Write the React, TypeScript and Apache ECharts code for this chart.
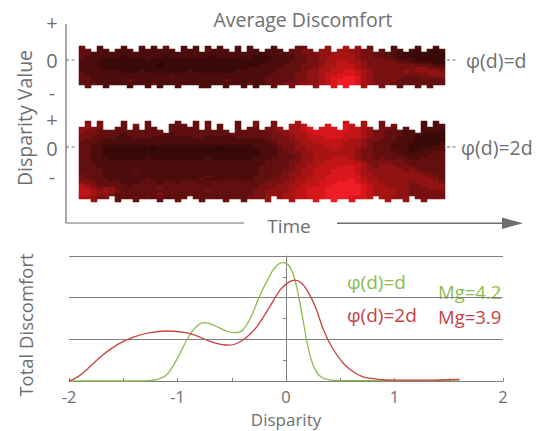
import React, { useEffect, useRef } from "react";
import * as echarts from "echarts";

const FONT = "'Open Sans', 'Noto Sans', sans-serif";
const GRAY = "#6d6e71";
const AXIS = "#7f7f7f";
const GREEN = "#8cbb4e";
const RED = "#c8423f";

// heat level palette 0..9 (dark maroon -> bright red)
const HEAT = ["#260505", "#3a0909", "#4d0c0c", "#620f0f", "#781111", "#901313", "#a81414", "#c01516", "#d8161b", "#ee1c24"];

// Heatmap 1 (phi(d)=d): 14 rows x 61 time columns, levels
const hm1Rows = [
  "3332|23222 22222 32222 22222 23222|322222|3334|4455665|5433|32222|221122",
  "3332|22222 32222 22222 22322 22222|222223|3344|4556665|5443|32222|211112",
  "3322|22222 22222 22222 22222 22222|212222|3344|4556666|5443|32211|111111",
  "3222|22212 22222 12222 22212 22222|111222|2334|4556666|5443|33221|111111",
  "3222|11111 11211 11111 11111 11112|111222|2334|4566666|5444|43322|211111",
  "2221|11111 11111 11111 11111 11111|112222|3334|4566776|6544|44433|222211",
  "2221|11111 11110 11111 11111 11111|122223|3344|4566777|6544|44444|433322",
  "2222|11111 11111 11111 11111 11112|222233|3344|5667777|6554|44444|455443",
  "2222|22211 12111 11112 11111 11222|222233|3345|5667788|7654|44445|455554",
  "3222|22222 22222 22222 22222 22222|222333|3445|5677888|7654|44444|444555",
  "3322|22222 22222 23222 22222 22222|223333|3445|5678899|8654|44443|334444",
  "3322|22223 22222 22222 22222 32222|223333|3445|5678999|8654|44433|333333",
  "3332|22222 22232 22222 22222 22223|223334|4455|5678999|8654|44333|333333",
  "3332|22222 22232 22222 22222 22223|223334|4455|5678998|7654|44333|333333",
];
const hm1TopCut = "0120121012 0101012010 2010120201 2101210012 1021010102 1201210210 1";
const hm1BotCut = "1011011101 1010110111 0011011010 1101101110 1101011011 0110110101 1";

// Heatmap 2 (phi(d)=2d): 27 rows x 61 time columns
const hm2Rows = [
  "4444|33433 33333 43333 33333 34333|444455|6677|7888877|7655|44433|332222",
  "4544|33333 43333 33333 33433 33333|444455|6677|8888887|7655|44433|322222",
  "5544|33333 33333 33333 33333 33333|344455|6678|8888887|7654|44333|222222",
  "5443|33333 33333 33333 33333 33333|334455|6678|8888887|7654|43332|222221",
  "4443|33323 33333 32333 33333 33333|333445|5667|8888877|7654|43332|221111",
  "4433|33222 33322 22222 33222 22333|333444|5667|7788877|7654|43322|211111",
  "4333|22222 22222 22222 22222 22222|223344|5566|7777776|6544|33322|211111",
  "3332|22222 22222 22222 22222 22222|222344|4566|6777766|6543|33222|111112",
  "3322|11111 11111 11111 11111 11111|222234|4556|6677766|6543|33222|111122",
  "3322|11111 11101 11111 11110 11111|122234|4556|6667666|5443|33222|112222",
  "3322|11111 11111 11111 11111 11111|122233|4455|6666666|5443|33322|122233",
  "3322|11111 11111 11111 11111 11111|122233|3455|6666666|5443|33332|222333",
  "3322|21111 11211 11111 11211 11111|222333|3455|6667776|5443|43333|223333",
  "3322|22222 22222 22222 22222 22222|223333|4455|6677777|6544|44443|333333",
  "3332|22222 22222 22222 22222 22222|223333|4556|6777777|7654|55444|333333",
  "3332|22222 22222 22222 22222 22222|233333|4556|6777888|7654|55544|433333",
  "3333|22222 22222 22222 22222 22222|233334|4566|7778888|7655|55554|543333",
  "3333|22222 32222 22222 22222 22222|233334|5566|7778888|7665|55555|554433",
  "4333|22222 22222 22222 22322 22222|333344|5566|7788888|8665|55555|555443",
  "4433|32222 22322 22222 23222 22222|333444|5667|7788889|8766|55555|555543",
  "5443|33322 23332 33233 32333 33333|334445|5667|7888999|8766|55555|455554",
  "6543|33332 33333 33333 33333 33333|344455|6677|7889999|9876|65555|445555",
  "7654|55333 33334 33333 33333 33333|344555|6678|8899999|9876|66555|444555",
  "7765|65433 33333 33333 33433 33333|445555|6778|8899999|9876|66655|444444",
  "7765|54333 33334 33333 33333 33333|445556|6778|8899999|9876|66655|444444",
  "6654|44333 33333 33333 33333 33334|445556|6778|8899998|8876|66555|444444",
  "6654|44333 33333 33333 33333 33334|445556|6778|8899998|8876|66555|444444",
];
const hm2TopCut = "2020332031 3023410120 3031340320 3202310123 2123012023 0213234020 1";
const hm2BotCut = "1101120110 1110110121 0111011011 1021101110 1101101112 1011021011 1";

// Total discomfort curves
const greenX = [-2, -1.6, -1.3, -1.2, -1.1, -1.0, -0.9, -0.82, -0.75, -0.65, -0.55, -0.47, -0.4, -0.32, -0.25, -0.17, -0.1, -0.03, 0.03, 0.08, 0.12, 0.16, 0.2, 0.25, 0.3, 0.36, 0.45, 0.7, 1.2, 1.6];
const greenY = [0, 0, 0.005, 0.03, 0.15, 0.55, 1.05, 1.32, 1.4, 1.32, 1.2, 1.16, 1.22, 1.55, 2.0, 2.42, 2.73, 2.84, 2.76, 2.45, 1.98, 1.42, 0.85, 0.38, 0.15, 0.05, 0.015, 0.01, 0.01, 0.02];
const redX = [-2, -1.92, -1.85, -1.7, -1.55, -1.4, -1.25, -1.1, -0.92, -0.8, -0.7, -0.6, -0.52, -0.43, -0.35, -0.27, -0.15, -0.05, 0.03, 0.08, 0.14, 0.2, 0.27, 0.35, 0.43, 0.53, 0.62, 0.71, 0.85, 1.0, 1.3, 1.6];
const redY = [0, 0.1, 0.24, 0.6, 0.88, 1.06, 1.16, 1.2, 1.16, 1.06, 0.95, 0.88, 0.86, 0.93, 1.08, 1.3, 1.78, 2.2, 2.38, 2.42, 2.36, 2.15, 1.78, 1.2, 0.78, 0.42, 0.22, 0.1, 0.04, 0.02, 0.02, 0.04];

const xTicks = [-2, 2];

function buildHeat(rows: string[], topCut: string, botCut: string) {
  const g = rows.map((r) => r.replace(/[^0-9]/g, ""));
  const tc = topCut.replace(/\s/g, "");
  const bc = botCut.replace(/\s/g, "");
  const n = g.length;
  const data: number[][] = [];
  for (let r = 0; r < n; r++) {
    for (let c = 0; c < g[r].length; c++) {
      const t = Number(tc[c] ?? "1");
      const b = Number(bc[c] ?? "1");
      if (r < t || r >= n - b) continue;
      data.push([c, r, Number(g[r][c])]);
    }
  }
  return { data, cols: g[0].length, rows: n };
}

function txt(text: string, x: number, y: number, size: number, fill: string, extra: any = {}) {
  return {
    type: "text",
    x,
    y,
    ...extra,
    style: { text, fill, fontSize: size, fontFamily: FONT, align: extra.align ?? "left", verticalAlign: "middle" },
  };
}

function line(x1: number, y1: number, x2: number, y2: number, w = 1.2, dash?: number[]) {
  return {
    type: "line",
    shape: { x1, y1, x2, y2 },
    style: { stroke: GRAY, lineWidth: w, lineDash: dash },
  };
}

export default function App() {
  const ref = useRef<HTMLDivElement>(null);
  useEffect(() => {
    if (!ref.current) return;
    const chart = echarts.init(ref.current, null, { renderer: "svg" });
    const h1 = buildHeat(hm1Rows, hm1TopCut, hm1BotCut);
    const h2 = buildHeat(hm2Rows, hm2TopCut, hm2BotCut);
    const catCols = Array.from({ length: h1.cols }, (_, i) => String(i));
    const rows1 = Array.from({ length: h1.rows }, (_, i) => String(i));
    const rows2 = Array.from({ length: h2.rows }, (_, i) => String(i));

    const option: any = {
      animation: false,
      backgroundColor: "#ffffff",
      textStyle: { fontFamily: FONT },
      grid: [
        { left: 79, top: 46, width: 366, height: 42 },
        { left: 79, top: 121, width: 366, height: 81 },
        { left: 69, top: 256, width: 434, height: 125 },
      ],
      xAxis: [
        { type: "category", gridIndex: 0, data: catCols, show: false },
        { type: "category", gridIndex: 1, data: catCols, show: false },
        {
          type: "value",
          gridIndex: 2,
          min: xTicks[0],
          max: xTicks[1],
          interval: 1,
          axisLine: { show: true, lineStyle: { color: AXIS, width: 1 } },
          axisTick: { show: true, inside: true, length: 3, lineStyle: { color: AXIS } },
          minorTick: { show: true, splitNumber: 2, length: 3, lineStyle: { color: AXIS } },
          axisLabel: { fontSize: 16.5, color: GRAY, margin: 6.5, fontFamily: FONT },
          splitLine: { show: false },
          name: "Disparity",
          nameLocation: "middle",
          nameGap: 29.5,
          nameTextStyle: { fontSize: 17, color: GRAY, fontFamily: FONT },
        },
      ],
      yAxis: [
        { type: "category", gridIndex: 0, data: rows1, show: false, inverse: true },
        { type: "category", gridIndex: 1, data: rows2, show: false, inverse: true },
        {
          type: "value",
          gridIndex: 2,
          min: 0,
          max: 3,
          interval: 1,
          axisLine: { show: true, onZero: true, lineStyle: { color: AXIS, width: 1 } },
          axisTick: { show: true, length: 3, lineStyle: { color: AXIS } },
          minorTick: { show: true, splitNumber: 2, length: 3, lineStyle: { color: AXIS } },
          axisLabel: { show: false },
          splitLine: { show: true, lineStyle: { color: "#808080", width: 1 } },
        },
      ],
      visualMap: {
        type: "continuous",
        show: false,
        min: 0,
        max: 9,
        seriesIndex: [0, 1],
        dimension: 2,
        inRange: { color: HEAT },
      },
      series: [
        { type: "heatmap", xAxisIndex: 0, yAxisIndex: 0, data: h1.data, progressive: 0, emphasis: { disabled: true } },
        { type: "heatmap", xAxisIndex: 1, yAxisIndex: 1, data: h2.data, progressive: 0, emphasis: { disabled: true } },
        {
          type: "line",
          xAxisIndex: 2,
          yAxisIndex: 2,
          data: greenX.map((x, i) => [x, greenY[i]]),
          smooth: 0.35,
          showSymbol: false,
          lineStyle: { color: GREEN, width: 1.3 },
          itemStyle: { color: GREEN },
        },
        {
          type: "line",
          xAxisIndex: 2,
          yAxisIndex: 2,
          data: redX.map((x, i) => [x, redY[i]]),
          smooth: 0.35,
          showSymbol: false,
          lineStyle: { color: RED, width: 1.3 },
          itemStyle: { color: RED },
        },
      ],
      graphic: [
        txt("Average Discomfort", 303, 19, 19.5, GRAY, { align: "center" }),
        line(66, 24, 66, 223),
        line(66, 223, 244, 223),
        line(337, 223.3, 505, 223.3, 1.5),
        {
          type: "polygon",
          shape: { points: [[502, 217.5], [523, 223.3], [502, 229]] },
          style: { fill: GRAY },
        },
        txt("Time", 289, 226, 19, GRAY, { align: "center" }),
        txt("Disparity Value", 24, 118, 19.5, GRAY, { align: "center", rotation: Math.PI / 2 }),
        txt("+", 52, 22, 20, GRAY, { align: "center" }),
        txt("0", 52, 60, 20, GRAY, { align: "center" }),
        txt("-", 52, 92, 20, GRAY, { align: "center" }),
        txt("+", 52, 119, 20, GRAY, { align: "center" }),
        txt("0", 52, 148, 20, GRAY, { align: "center" }),
        txt("-", 52, 176, 20, GRAY, { align: "center" }),
        line(66, 60, 77, 60, 1.2, [3, 2.5]),
        line(66, 147, 77, 147, 1.2, [3, 2.5]),
        line(447, 60, 458, 60, 1.2, [3, 2.5]),
        line(447, 147, 458, 147, 1.2, [3, 2.5]),
        txt("φ(d)=d", 466, 60, 19.5, GRAY),
        txt("φ(d)=2d", 461, 147, 19.5, GRAY),
        txt("Total Discomfort", 25, 325, 18.5, GRAY, { align: "center", rotation: Math.PI / 2 }),
        txt("φ(d)=d", 347, 282, 19, GREEN),
        txt("Mg=4.2", 438, 291, 18.5, GREEN),
        txt("φ(d)=2d", 347, 315, 19, RED),
        txt("Mg=3.9", 438, 316, 18.5, RED),
      ],
    };
    chart.setOption(option);
    return () => chart.dispose();
  }, []);
  return (
    <div
      ref={ref}
      style={{ position: "fixed", left: 0, top: 0, width: 537, height: 431, background: "#fff" }}
    />
  );
}
